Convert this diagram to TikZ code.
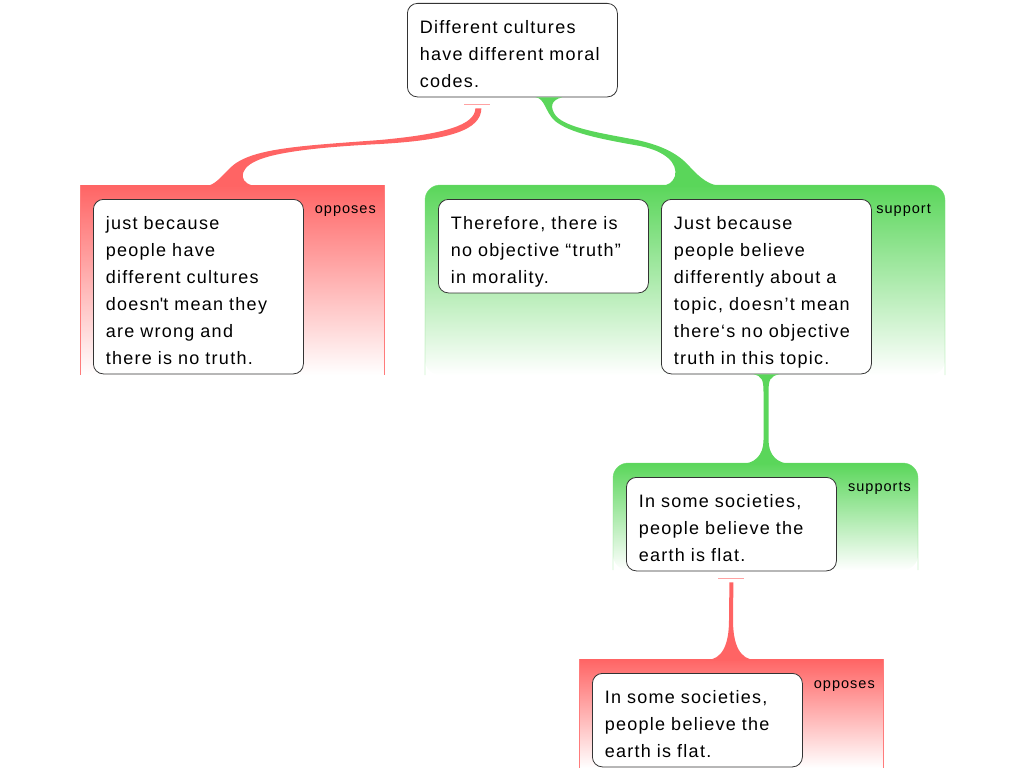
\documentclass[tikz,border=0pt]{standalone}
\usepackage{fontspec}
\usetikzlibrary{calc}
\newfontfamily\argfont{Liberation Sans}[LetterSpace=7]
\definecolor{oppred}{RGB}{255,100,100}
\definecolor{supgreen}{RGB}{90,214,90}

\begin{document}
\begin{tikzpicture}[x=1pt, y=-1pt,
    arg/.style={draw=black!80, line width=0.8pt, fill=white, rounded corners=10pt,
      anchor=north west, align=left, text width=185pt, inner xsep=12.5pt, inner ysep=0pt,
      font=\argfont\fontsize{18}{27}\selectfont,
      execute at begin node={\rule{0pt}{30pt}},
      execute at end node={\rule[-9.5pt]{0pt}{9.5pt}}},
    rel/.style={anchor=base east, inner sep=0pt, font=\argfont\fontsize{14.5}{16}\selectfont}]

  \useasboundingbox (0,0) rectangle (1024,768);

  % groups
  \shade[top color=oppred, bottom color=white] (80,185) rectangle (384,375);
  \shade[top color=supgreen, bottom color=white, rounded corners=15pt] (425,375) -- (425,185) -- (945,185) -- (945,375) -- cycle;
  \shade[top color=supgreen, bottom color=white, rounded corners=15pt] (613,570) -- (613,463) -- (918,463) -- (918,570) -- cycle;
  \shade[top color=oppred, bottom color=white] (579,659) rectangle (883,768);
  \draw[oppred!85] (80,185) -- (80,375) (384,185) -- (384,375);
  \draw[oppred!85] (579,659) -- (579,768) (883,659) -- (883,768);
  \draw[supgreen!85, rounded corners=15pt] (425,375) -- (425,185) -- (945,185) -- (945,375);
  \draw[supgreen!85, rounded corners=15pt] (613,570) -- (613,463) -- (918,463) -- (918,570);

  \coordinate (topOppA) at (232,186);
  \coordinate (topSupA) at (690,186);
  \coordinate (topSupB) at (766,464);
  \coordinate (topOppB) at (731,660);

  \node[rel] (lblOppA) at (376,213) {opposes};
  \node[rel] (lblSupA) at (931,213) {support};
  \node[rel] (lblSupB) at (911,491) {supports};
  \node[rel] (lblOppB) at (875,688) {opposes};

  % arguments
  \node[arg] (claim) at (407,3) {Different cultures\\have different moral\\codes.};
  \node[arg] (oppA) at (93,199) {just because\\people have\\different cultures\\doesn\textquotesingle t mean they\\are wrong and\\there is no truth.};
  \node[arg] (conc) at (438,199) {Therefore, there is\\no objective “truth”\\in morality.};
  \node[arg] (supA) at (661,199) {Just because\\people believe\\differently about a\\topic, doesn’t mean\\there‘s no objective\\truth in this topic.};
  \node[arg] (earthA) at (626,477) {In some societies,\\people believe the\\earth is flat.};
  \node[arg] (earthB) at (592,673) {In some societies,\\people believe the\\earth is flat.};

  % links
  \draw[oppred!60, line width=1pt] ($(claim.south)+(-48,7)$) -- ($(claim.south)+(-22,7)$);
  \fill[oppred] ($(claim.south)+(-37,11)$) .. controls (475,125) and (445,134) .. (380,140)
    .. controls (300,146) and (250,148) .. (230,168) .. controls (220,178) and (214,186) .. ($(topOppA)+(-27,0)$)
    -- ($(topOppA)+(26,0)$) .. controls (240,186) and (236,170) .. (256,161)
    .. controls (275,152) and (320,147) .. (380,144) .. controls (450,140) and (481,130) .. ($(claim.south)+(-31,11)$) -- cycle;

  \fill[supgreen] ($(claim.south)+(23,0)$) .. controls (545,98) and (545,112) .. (555,121)
    .. controls (570,133) and (600,139) .. (640,146) .. controls (665,151) and (678,163) .. (675,176)
    .. controls (673,182) and (668,186) .. ($(topSupA)+(-30,0)$)
    -- ($(topSupA)+(32,0)$) .. controls (710,186) and (700,178) .. (690,167)
    .. controls (678,153) and (660,145) .. (637,140) .. controls (600,133) and (567,128) .. (556,116)
    .. controls (550,108) and (550,100) .. ($(claim.south)+(50,0)$) -- cycle;

  \fill[supgreen] ($(supA.south)+(-13,0)$) .. controls (762,376) and (763.5,380) .. (763.5,392) -- (763.5,440)
    .. controls (763.5,455) and (755,464) .. ($(topSupB)+(-26,0)$)
    -- ($(topSupB)+(26,0)$) .. controls (777,464) and (768.5,455) .. (768.5,440) -- (768.5,392)
    .. controls (768.5,380) and (770,376) .. ($(supA.south)+(13,0)$) -- cycle;

  \draw[oppred!60, line width=1pt] ($(earthA.south)+(-13,7)$) -- ($(earthA.south)+(13,7)$);
  \fill[oppred] ($(earthA.south)+(-2,11)$) -- (729,620) .. controls (729,645) and (722,660) .. ($(topOppB)+(-25,0)$)
    -- ($(topOppB)+(25,0)$) .. controls (740,660) and (733,645) .. (733,620) -- ($(earthA.south)+(2,11)$) -- cycle;
\end{tikzpicture}
\end{document}
